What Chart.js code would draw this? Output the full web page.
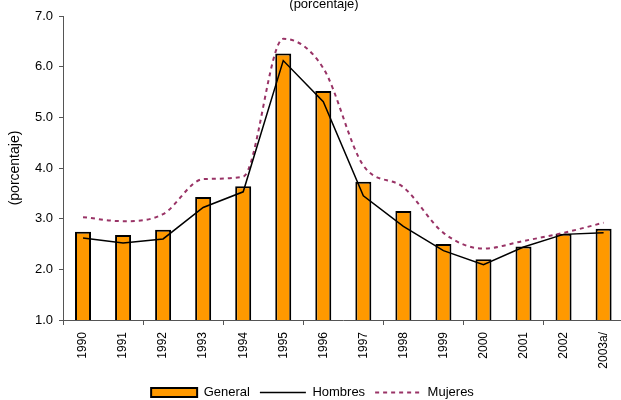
<!DOCTYPE html>
<html lang="es">
<head>
    <meta charset="UTF-8">
    <title>(porcentaje)</title>
    <script src="https://cdn.jsdelivr.net/npm/chart.js@4.4.8/dist/chart.umd.min.js"></script>
    <style>
        html, body { margin: 0; padding: 0; overflow: hidden; background: #fff; }
        #wrap { position: relative; width: 625px; height: 409px; }
        #titulo {
            position: absolute; left: 324px; top: -4px; transform: translateX(-50%);
            font: 13px "Liberation Sans", Arial, sans-serif; line-height: 15px;
            color: #000; white-space: nowrap; z-index: 2;
        }
    </style>
</head>
<body>
    <div id="wrap">
        <div id="titulo">(porcentaje)</div>
        <canvas id="grafico"></canvas>
    </div>

    <script>
        // datos
        const anios = ['1990', '1991', '1992', '1993', '1994', '1995', '1996', '1997', '1998', '1999', '2000', '2001', '2002', '2003a/'];
        const general = [2.74, 2.68, 2.78, 3.43, 3.64, 6.26, 5.52, 3.73, 3.15, 2.50, 2.20, 2.45, 2.70, 2.80];
        const hombres = [2.62, 2.52, 2.60, 3.22, 3.53, 6.12, 5.31, 3.45, 2.85, 2.37, 2.09, 2.44, 2.69, 2.72];
        const mujeres = [3.03, 2.95, 3.09, 3.78, 3.83, 6.55, 5.97, 4.05, 3.62, 2.72, 2.41, 2.56, 2.72, 2.92];
        const yTicks = [1, 2, 3, 4, 5, 6, 7];

        const fuente = '"Liberation Sans", Arial, sans-serif';
        const ejeColor = '#555';

        const ctx = document.getElementById('grafico').getContext('2d');
        new Chart(ctx, {
            data: {
                labels: anios,
                datasets: [
                    {
                        type: 'bar',
                        label: 'General',
                        data: general,
                        backgroundColor: '#FF9900',
                        borderColor: '#000',
                        borderWidth: 2,
                        barPercentage: 0.4,
                        categoryPercentage: 1,
                        order: 3
                    },
                    {
                        type: 'line',
                        label: 'Hombres',
                        data: hombres,
                        borderColor: '#000',
                        backgroundColor: '#000',
                        borderWidth: 1.5,
                        pointRadius: 0,
                        tension: 0,
                        order: 1
                    },
                    {
                        type: 'line',
                        label: 'Mujeres',
                        data: mujeres,
                        borderColor: '#993366',
                        backgroundColor: '#993366',
                        borderWidth: 2,
                        borderDash: [4, 4],
                        pointRadius: 0,
                        cubicInterpolationMode: 'monotone',
                        order: 2
                    }
                ]
            },
            options: {
                responsive: true,
                maintainAspectRatio: false,
                animation: false,
                layout: { padding: { top: 16, bottom: 0, left: 0, right: 0 } },
                scales: {
                    x: {
                        offset: true,
                        grid: {
                            offset: true,
                            drawOnChartArea: false,
                            drawTicks: true,
                            tickLength: 5,
                            color: c => (c.index % 2 === 0 ? ejeColor : 'rgba(0,0,0,0)')
                        },
                        border: { display: true, color: ejeColor, width: 1 },
                        ticks: {
                            color: '#000',
                            font: { family: fuente, size: 12 },
                            minRotation: 90,
                            maxRotation: 90,
                            autoSkip: false,
                            padding: 7
                        },
                        afterFit: s => { s.height = 56; }
                    },
                    y: {
                        min: 1,
                        max: 7,
                        afterBuildTicks: s => { s.ticks = yTicks.map(v => ({ value: v })); },
                        grid: {
                            drawOnChartArea: false,
                            drawTicks: true,
                            tickLength: 4,
                            color: ejeColor
                        },
                        border: { display: true, color: ejeColor, width: 1 },
                        ticks: {
                            color: '#000',
                            font: { family: fuente, size: 13 },
                            padding: 6,
                            callback: v => v.toFixed(1)
                        },
                        title: {
                            display: true,
                            text: '(porcentaje)',
                            color: '#000',
                            font: { family: fuente, size: 14 },
                            padding: { top: 7, bottom: 0 }
                        },
                        afterFit: s => { s.width = 63; }
                    }
                },
                plugins: {
                    title: { display: false },
                    tooltip: { enabled: false },
                    legend: {
                        position: 'bottom',
                        labels: {
                            color: '#000',
                            font: { family: fuente, size: 13 },
                            usePointStyle: true,
                            pointStyleWidth: 46,
                            boxHeight: 9,
                            padding: 10,
                            generateLabels: chart => chart.data.datasets.map((ds, i) => ({
                                text: ds.label,
                                datasetIndex: i,
                                fontColor: '#000',
                                fillStyle: ds.type === 'bar' ? ds.backgroundColor : 'rgba(0,0,0,0)',
                                strokeStyle: ds.borderColor,
                                lineWidth: ds.borderWidth,
                                lineDash: ds.borderDash || [],
                                pointStyle: ds.type === 'bar' ? 'rect' : 'line',
                                hidden: false
                            }))
                        }
                    }
                }
            }
        });
    </script>
</body>
</html>
